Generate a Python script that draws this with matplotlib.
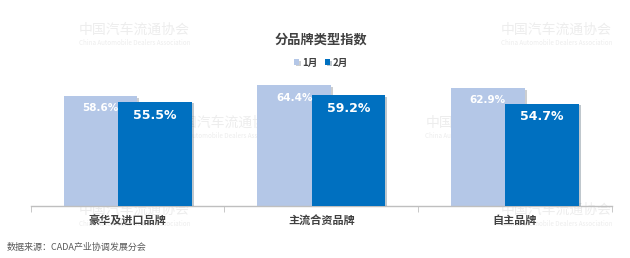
import matplotlib
matplotlib.use('Agg')
import matplotlib.pyplot as plt
import matplotlib.patheffects as pe
import numpy as np

plt.rcParams['font.family'] = ['Noto Sans CJK SC', 'DejaVu Sans']

# data
categories = ['豪华及进口品牌', '主流合资品牌', '自主品牌']
jan = [58.6, 64.4, 62.9]
feb = [55.5, 59.2, 54.7]
series_names = ['1月', '2月']

c_light = '#b4c7e7'
c_dark = '#0070c0'

fig = plt.figure(figsize=(6.3, 2.58), dpi=100)
ax = fig.add_axes([0.049, 0.2016, 0.922, 0.508])

x = np.arange(len(categories))
w = 0.38
shadow = [pe.SimplePatchShadow(offset=(1.5, -1), alpha=0.25), pe.Normal()]

b1 = ax.bar(x - 0.14, jan, w, color=c_light, zorder=2, label=series_names[0])
b2 = ax.bar(x + 0.14, feb, w, color=c_dark, zorder=3, label=series_names[1])
for b in list(b1) + list(b2):
    b.set_path_effects(shadow)

# value labels
for xi, v in zip(x, jan):
    ax.text(xi - 0.14, v - 6.5, f'{v}%', ha='center', va='center', color='white',
            fontsize=7.5, fontweight='bold', family='DejaVu Sans', zorder=4)
for xi, v in zip(x, feb):
    ax.text(xi + 0.14, v - 7, f'{v}%', ha='center', va='center', color='white',
            fontsize=9, fontweight='bold', family='DejaVu Sans', zorder=5)

ax.set_xlim(-0.5, 2.5)
ax.set_ylim(0, 70)
ax.set_yticks([])
for s in ['top', 'right', 'left']:
    ax.spines[s].set_visible(False)
ax.spines['bottom'].set_color('#bfbfbf')
ax.spines['bottom'].set_linewidth(1)
ax.set_xticks(x)
ax.set_xticklabels(categories, fontsize=8, fontweight='bold', color='#404040')
ax.tick_params(axis='x', which='major', length=0, pad=6)
ax.set_xticks([-0.5, 0.5, 1.5, 2.5], minor=True)
ax.tick_params(axis='x', which='minor', length=4, color='#bfbfbf')

# title and legend
fig.text(0.51, 0.845, '分品牌类型指数', ha='center', va='center', fontsize=9.5,
         fontweight='bold', color='#404040')
leg = fig.legend(handles=[b1, b2], labels=series_names, loc='center',
                 bbox_to_anchor=(0.51, 0.757), ncol=2, frameon=False, fontsize=7,
                 handlelength=0.5, handleheight=0.5, handletextpad=0.3, columnspacing=0.8)
for t in leg.get_texts():
    t.set_fontweight('bold')
    t.set_color('#404040')

# watermarks, kept behind the bars
wm_color = '#ededed'
for wx, wy in [(0.125, 0.87), (0.795, 0.87), (0.27, 0.51), (0.675, 0.51), (0.125, 0.17), (0.795, 0.17)]:
    ax.text(wx, wy, '中国汽车流通协会', fontsize=10, color=wm_color, transform=fig.transFigure,
            clip_on=False, zorder=0.5)
    ax.text(wx, wy - 0.045, 'China Automobile Dealers Association', fontsize=4.5, color=wm_color,
            transform=fig.transFigure, clip_on=False, zorder=0.5)

fig.text(0.01, 0.04, '数据来源：CADA产业协调发展分会', fontsize=6.5, color='#595959', va='center')

fig.savefig('out.png', dpi=100)
